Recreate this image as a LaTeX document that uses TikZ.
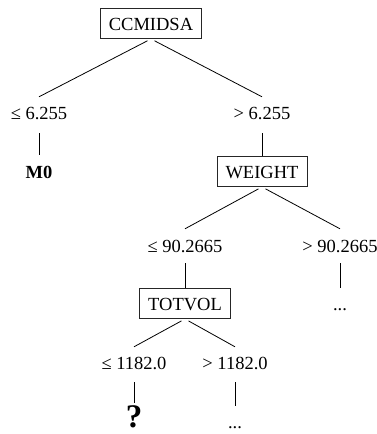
\documentclass[tikz,border=0pt]{standalone}
\usepackage{fontspec}
\setmainfont{Liberation Serif}
\begin{document}
\begin{tikzpicture}[x=1pt,y=-1pt,
  every node/.style={font=\fontsize{18.5}{20}\selectfont, inner sep=0pt},
  testbox/.style={draw=black!85, line width=0.9pt, inner xsep=8.5pt, inner ysep=8.5pt,
    text height=13pt, text depth=0pt, anchor=base},
  lbl/.style={anchor=base},
  leaf/.style={anchor=base, font=\fontsize{18.5}{20}\selectfont\bfseries},
  edge/.style={line width=0.8pt},
  split/.style={edge, shorten <=4pt}]
\useasboundingbox (0,0) rectangle (377,434);

% decision nodes
\node[testbox] (root) at (151,30) {CCMIDSA};
\node[testbox] (weight) at (262,178) {WEIGHT};
\node[testbox] (totvol) at (185,310) {TOTVOL};

% branch conditions
\node[lbl, text height=22pt, text depth=14pt] (c1l) at (39,119) {≤ 6.255};
\node[lbl, text height=22pt, text depth=14pt] (c1r) at (262,119) {> 6.255};
\node[lbl, text height=23pt, text depth=11pt] (c2l) at (185,252) {≤ 90.2665};
\node[lbl, text height=23pt, text depth=11pt] (c2r) at (340,252) {> 90.2665};
\node[lbl, text height=22pt, text depth=13pt] (c3l) at (134,369) {≤ 1182.0};
\node[lbl, text height=22pt, text depth=13pt] (c3r) at (235,369) {> 1182.0};

% leaves
\node[leaf, text height=23pt] (m0) at (39,178) {M0};
\node[anchor=base, text height=22pt] (more1) at (340,310) {...};
\node[anchor=base, text height=24pt, font=\fontsize{33}{35}\selectfont\bfseries] (unk) at (134,427) {?};
\node[anchor=base, text height=22pt] (more2) at (235,428) {...};

% splits below each test
\draw[split] (root.south) -- (c1l.north);
\draw[split] (root.south) -- (c1r.north);
\draw[split] (weight.south) -- (c2l.north);
\draw[split] (weight.south) -- (c2r.north);
\draw[split] (totvol.south) -- (c3l.north);
\draw[split] (totvol.south) -- (c3r.north);

% stems from conditions to subtrees
\draw[edge] (c1l.south) -- (m0.north);
\draw[edge] (c1r.south) -- (weight.north);
\draw[edge] (c2l.south) -- (totvol.north);
\draw[edge] (c2r.south) -- (more1.north);
\draw[edge] (c3l.south) -- (unk.north);
\draw[edge] (c3r.south) -- (more2.north);
\end{tikzpicture}
\end{document}
